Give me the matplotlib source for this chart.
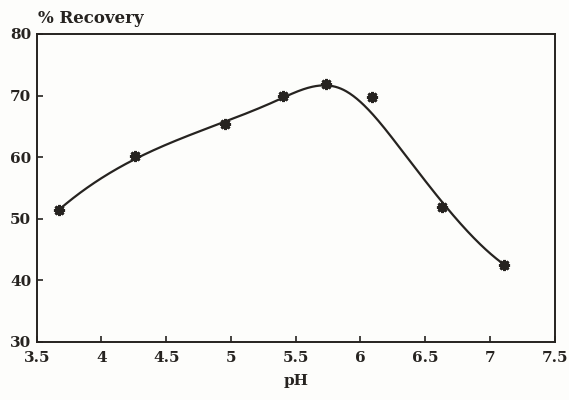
import numpy as np
import matplotlib
matplotlib.use("Agg")
import matplotlib.pyplot as plt

# measured points
ph = [3.67, 4.26, 4.95, 5.40, 5.73, 6.09, 6.63, 7.11]
recovery = [51.4, 60.2, 65.4, 70.0, 71.8, 69.7, 51.9, 42.5]

# points
trace_ph = [3.67, 3.96, 4.26, 4.60, 4.95, 5.17, 5.40, 5.58, 5.73, 5.94,
            6.06, 6.19, 6.32, 6.44, 6.57, 6.70, 6.85, 7.11]
trace_recovery = [51.4, 55.8, 60.0, 62.9, 65.3, 67.6, 69.9, 71.2, 71.7, 69.9,
                  67.5, 64.5, 61.2, 58.0, 54.2, 50.6, 47.6, 42.5]

x_ticks = [3.5, 4, 4.5, 5, 5.5, 6, 6.5, 7, 7.5]
x_tick_labels = ["3.5", "4", "4.5", "5", "5.5", "6", "6.5", "7", "7.5"]
y_ticks = [30, 40, 50, 60, 70, 80]


def lsq_cubic_spline(xk, yk, knots, xs):
    """Least-squares cubic regression spline (truncated power basis)."""
    xk = np.asarray(xk, float)
    yk = np.asarray(yk, float)

    def basis(x):
        cols = [np.ones_like(x), x, x ** 2, x ** 3]
        cols += [np.clip(x - k, 0, None) ** 3 for k in knots]
        return np.column_stack(cols)

    w = np.ones_like(xk)
    w[0] = w[-1] = 5.0
    B = basis(xk) * w[:, None]
    coef, *_ = np.linalg.lstsq(B, yk * w, rcond=None)
    return basis(xs) @ coef


ink = "#262320"
font = ["DejaVu Serif"]

fig = plt.figure(figsize=(5.69, 4.0), dpi=100)
fig.patch.set_facecolor("#fdfdfb")
ax = fig.add_axes([0.0645, 0.146, 0.9105, 0.769])
ax.set_facecolor("#fdfdfb")

xs = np.linspace(trace_ph[0], trace_ph[-1], 500)
curve = lsq_cubic_spline(trace_ph, trace_recovery, [5.35, 5.85, 6.3], xs)
ax.plot(xs, curve, color=ink, lw=1.6)
ax.plot(ph, recovery, linestyle="none", marker=(8, 2, 0), markersize=8,
        markeredgewidth=2.0, color=ink)

ax.set_xlim(3.5, 7.5)
ax.set_ylim(30, 80)
ax.set_xticks(x_ticks)
ax.set_xticklabels(x_tick_labels)
ax.set_yticks(y_ticks)
for s in ax.spines.values():
    s.set_color(ink)
    s.set_linewidth(1.4)
ax.tick_params(direction="in", length=4, width=1.2, color=ink)
ax.tick_params(axis="x", pad=7)
ax.tick_params(axis="y", pad=4)
for lab in ax.get_xticklabels() + ax.get_yticklabels():
    lab.set_fontfamily(font)
    lab.set_fontweight("bold")
    lab.set_fontsize(11)
    lab.set_color(ink)

ax.set_xlabel("pH", fontfamily=font, fontweight="bold", fontsize=11, color=ink, labelpad=6)
fig.text(0.067, 0.933, "% Recovery", fontfamily=font, fontweight="bold",
         fontsize=12, color=ink, ha="left", va="bottom")

fig.savefig("out.png", dpi=100, facecolor=fig.get_facecolor())
